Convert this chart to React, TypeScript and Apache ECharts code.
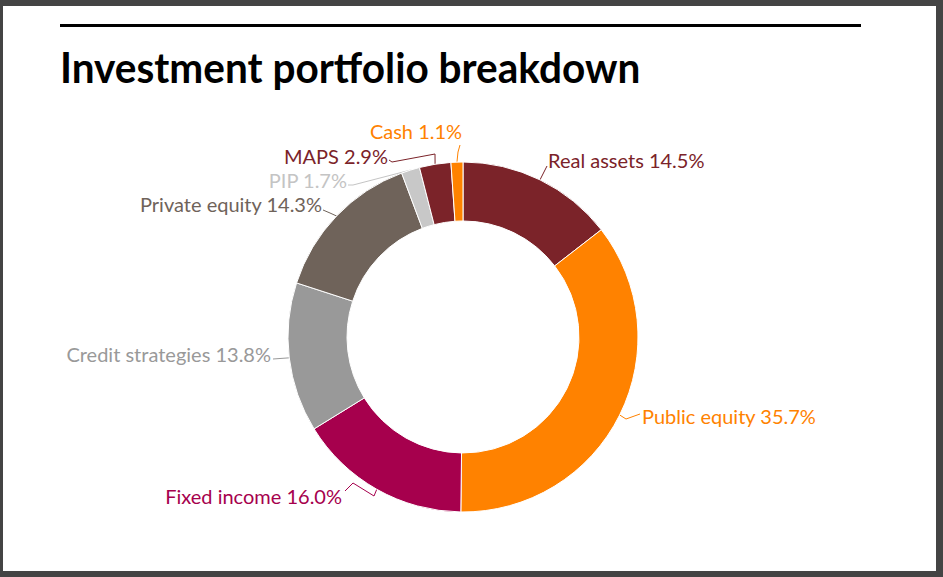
import React, { useEffect, useRef } from "react";
import * as echarts from "echarts";

const categories = [
  "Real assets",
  "Public equity",
  "Fixed income",
  "Credit strategies",
  "Private equity",
  "PIP",
  "MAPS",
  "Cash",
];
const values = [14.5, 35.7, 16.0, 13.8, 14.3, 1.7, 2.9, 1.1];
const colors = ["#7B2329", "#FF8200", "#A6004D", "#999999", "#6F635A", "#C8C8C8", "#7B2329", "#FF8200"];
const labelColors = ["#7B2329", "#FF8200", "#A6004D", "#999999", "#6F635A", "#C4C4C4", "#7B2329", "#FF8200"];

const TITLE = "Investment portfolio breakdown";

// label placement (layout only): anchor x, y, align, and guide-line bend points
const labelPlacement: any[] = [
  { x: 548, y: 160, align: "left", pts: [[547, 166]] },
  { x: 642, y: 416, align: "left", pts: [[626, 419], [640, 414]] },
  { x: 342, y: 496, align: "right", pts: [[374, 496], [353, 483], [345, 491]] },
  { x: 271, y: 354, align: "right", pts: [[273, 359]] },
  { x: 322, y: 204, align: "right", pts: [[330, 213], [323, 210]] },
  { x: 347, y: 180, align: "right", pts: [[353, 185], [348, 185]] },
  { x: 388, y: 156, align: "right", pts: [[435, 154], [392, 162], [389, 160]] },
  { x: 416, y: 131, align: "center", pts: [[458, 152], [460, 145]] },
];

export default function App() {
  const ref = useRef<HTMLDivElement>(null);
  useEffect(() => {
    const chart = echarts.init(ref.current!, null, { renderer: "svg" });
    const data = categories.map((name, i) => ({
      name,
      value: values[i],
      itemStyle: { color: colors[i] },
      label: { color: labelColors[i] },
      labelLine: { lineStyle: { color: labelColors[i] } },
    }));
    chart.setOption({
      animation: false,
      backgroundColor: "#ffffff",
      graphic: [
        { type: "rect", shape: { x: 60, y: 24, width: 801, height: 3 }, style: { fill: "#000" } },
        {
          type: "text",
          x: 60,
          y: 67,
          scaleX: 0.965,
          style: {
            text: TITLE,
            font: "bold 42px Lato",
            fill: "#000",
            verticalAlign: "middle",
          },
        },
      ],
      series: [
        {
          type: "pie",
          center: [463, 337],
          radius: [116, 175],
          startAngle: 90,
          clockwise: true,
          data,
          itemStyle: { borderColor: "#fff", borderWidth: 1 },
          label: {
            show: true,
            position: "outside",
            fontFamily: "Lato",
            fontWeight: "normal",
            fontSize: 20,
            formatter: (p: any) => `${p.name} ${Number(p.value).toFixed(1)}%`,
          },
          labelLine: { show: true, length: 10, length2: 5, lineStyle: { width: 1 } },
          labelLayout: (params: any) => {
            const lp = labelPlacement[params.dataIndex];
            const start = params.labelLinePoints ? params.labelLinePoints[0] : lp.pts[0];
            return {
              x: lp.x,
              y: lp.y,
              align: lp.align,
              verticalAlign: "middle",
              labelLinePoints: [start, ...lp.pts],
            };
          },
        },
      ],
    });
    return () => chart.dispose();
  }, []);
  return (
    <div style={{ position: "fixed", left: 0, top: 0, width: 943, height: 577 }}>
      <div ref={ref} style={{ position: "absolute", left: 0, top: 0, width: 943, height: 577 }} />
      <div
        style={{
          position: "absolute",
          left: 0,
          top: 0,
          width: 943,
          height: 577,
          boxSizing: "border-box",
          borderStyle: "solid",
          borderColor: "#444444",
          borderWidth: "6px 7px 6px 3px",
          pointerEvents: "none",
        }}
      />
    </div>
  );
}
